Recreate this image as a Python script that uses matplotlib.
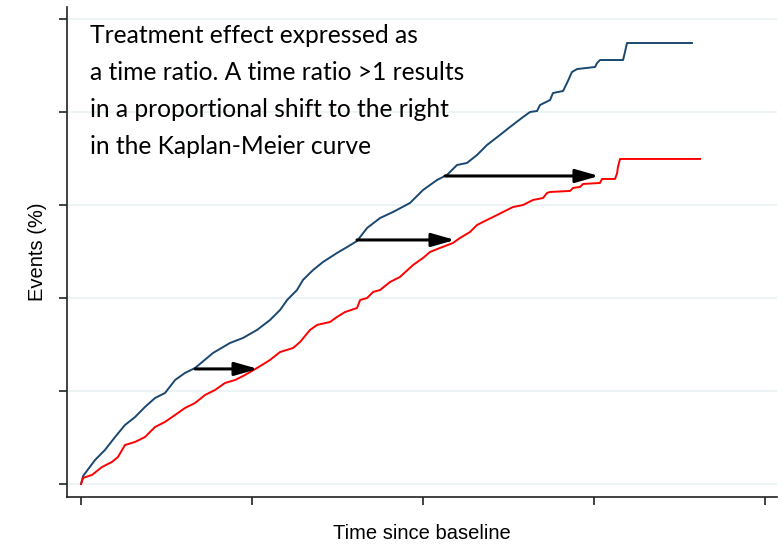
import matplotlib
matplotlib.use("Agg")
import matplotlib.pyplot as plt

# Kaplan-Meier style cumulative events, reference arm (navy) and shifted arm (red)
blue_t = [0.00, 0.12, 0.82, 1.40, 1.99, 2.57, 3.16, 3.74, 4.33, 4.91, 5.50, 6.08, 6.67,
          7.72, 8.71, 9.47, 10.29, 11.05, 11.64, 12.05, 12.63, 12.98, 13.57, 14.15, 14.97,
          15.56, 16.14, 16.73, 17.49, 18.25, 19.24, 20.00, 20.82, 21.40, 21.99, 22.57, 23.16,
          23.74, 24.50, 25.09, 25.85, 26.26, 26.67, 26.84, 27.43, 27.60, 28.19, 28.42, 28.71,
          29.01, 30.06, 30.18, 30.35, 31.70, 31.81, 31.93, 35.73]
blue_ev = [0.00, 0.86, 2.58, 3.66, 5.05, 6.34, 7.20, 8.28, 9.25, 9.78, 11.18, 11.94, 12.47,
           14.09, 15.16, 15.70, 16.56, 17.63, 18.71, 19.78, 20.86, 21.94, 23.01, 23.87, 24.84,
           25.48, 26.13, 27.53, 28.60, 29.25, 30.22, 31.61, 32.69, 33.23, 34.30, 34.52, 35.38,
           36.45, 37.53, 38.39, 39.46, 40.00, 40.11, 40.75, 41.29, 42.04, 42.26, 43.12, 44.30,
           44.62, 44.84, 45.27, 45.59, 45.59, 46.45, 47.42, 47.42]

red_t = [0.00, 0.12, 0.64, 1.23, 1.81, 2.16, 2.57, 3.16, 3.74, 4.33, 4.91, 5.50, 6.08, 6.67,
         7.25, 7.84, 8.42, 9.01, 9.59, 10.29, 11.05, 11.64, 12.40, 12.81, 13.39, 13.80, 14.56,
         14.97, 15.44, 16.14, 16.32, 16.73, 17.08, 17.49, 18.07, 18.65, 19.42, 20.00, 20.41,
         20.99, 21.75, 22.16, 22.75, 23.16, 23.74, 24.33, 24.68, 25.26, 25.85, 26.43, 27.02,
         27.25, 27.43, 28.60, 28.77, 29.18, 29.36, 30.35, 30.47, 31.23, 31.35, 31.40, 31.52, 36.20]
red_ev = [0.00, 0.65, 0.97, 1.83, 2.37, 2.90, 4.19, 4.52, 5.05, 6.13, 6.67, 7.42, 8.17, 8.71,
          9.57, 10.11, 10.86, 11.18, 11.72, 12.47, 13.33, 14.19, 14.62, 15.27, 16.56, 17.10, 17.42,
          17.96, 18.49, 18.92, 19.78, 20.00, 20.65, 20.86, 21.72, 22.26, 23.55, 24.30, 24.95,
          25.38, 25.91, 26.45, 27.10, 27.85, 28.39, 28.92, 29.25, 29.78, 30.00, 30.54, 30.75,
          31.29, 31.40, 31.51, 31.83, 31.94, 32.26, 32.37, 32.80, 32.80, 33.44, 34.09, 34.95, 34.95]

# horizontal shift arrows: (start time, end time, events level)
arrows = [(6.67, 10.35, 12.37), (16.14, 21.87, 26.24), (21.29, 30.29, 33.12)]

x_ticks = [0, 10, 20, 30, 40]
y_ticks = [0, 10, 20, 30, 40, 50]

note = ("Treatment effect expressed as\n"
        "a time ratio. A time ratio >1 results\n"
        "in a proportional shift to the right\n"
        "in the Kaplan-Meier curve")

fig = plt.figure(figsize=(7.83, 5.48), dpi=100)
ax = fig.add_axes([0.0856, 0.0931, 0.9067, 0.8941])

for y in y_ticks:
    ax.axhline(y, color="#eaf2f3", lw=1.2, zorder=0)

ax.plot(blue_t, blue_ev, color="#1a476f", lw=1.4, zorder=3)
ax.plot(red_t, red_ev, color="#ff0000", lw=1.4, zorder=3)

for x0, x1, y in arrows:
    ax.annotate("", xy=(x1, y), xytext=(x0, y),
                arrowprops=dict(arrowstyle="-|>,head_length=1.4,head_width=0.4",
                                color="black", lw=2.2, shrinkA=0, shrinkB=0),
                zorder=4)

ax.text(0.5, 49.5, note, fontsize=17.7, family="Lato", va="top", ha="left",
        linespacing=1.75, color="black")

ax.set_xlim(-0.82, 40.7)
ax.set_ylim(-1.4, 51.29)
ax.set_xticks(x_ticks)
ax.set_yticks(y_ticks)
ax.set_xticklabels([])
ax.set_yticklabels([])
ax.tick_params(length=6, width=1.2, color="#222222")
for side in ["top", "right"]:
    ax.spines[side].set_visible(False)
for side in ["left", "bottom"]:
    ax.spines[side].set_color("#222222")
    ax.spines[side].set_linewidth(1.2)

ax.set_xlabel("Time since baseline", fontsize=14.5, family="Liberation Sans", labelpad=10)
ax.set_ylabel("Events (%)", fontsize=14.5, family="Liberation Sans", labelpad=5)

fig.savefig("out.png", dpi=100)
